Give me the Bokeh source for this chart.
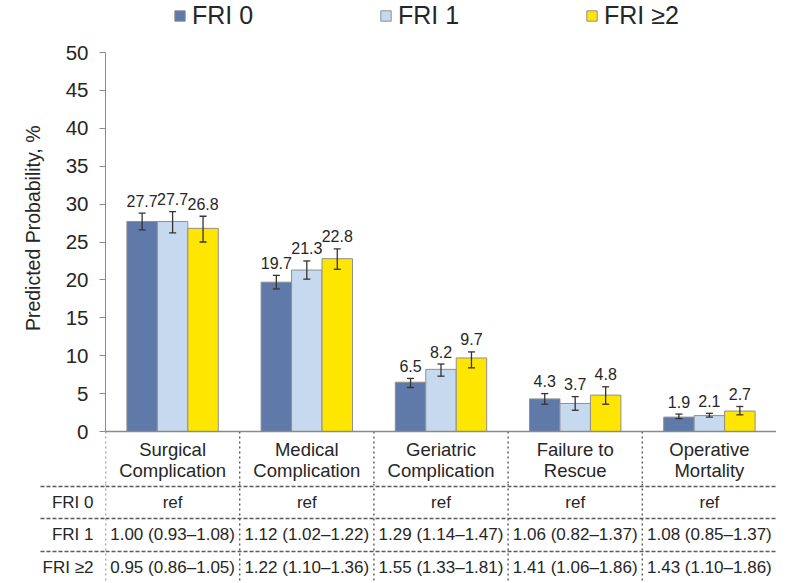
from bokeh.plotting import figure
from bokeh.models import (Range1d, ColumnDataSource, Whisker, TeeHead, Span,
                          Legend, LegendItem, FixedTicker, Title)
from bokeh.layouts import column
from bokeh.core.properties import value
from bokeh.embed import file_html
from bokeh.resources import INLINE

# ---------------- data ----------------
categories = ["Surgical\nComplication", "Medical\nComplication", "Geriatric\nComplication",
              "Failure to\nRescue", "Operative\nMortality"]
series_names = ["FRI 0", "FRI 1", "FRI \u22652"]
fri0 = [27.7, 19.7, 6.5, 4.3, 1.9]
fri1 = [27.7, 21.3, 8.2, 3.7, 2.1]
fri2 = [26.8, 22.8, 9.7, 4.8, 2.7]
fri0_lo = [26.6, 18.8, 5.8, 3.6, 1.7]
fri0_hi = [28.8, 20.6, 7.0, 5.0, 2.3]
fri1_lo = [26.2, 20.1, 7.3, 2.8, 1.9]
fri1_hi = [29.0, 22.5, 8.9, 4.6, 2.4]
fri2_lo = [25.0, 21.4, 8.4, 3.6, 2.2]
fri2_hi = [28.4, 24.1, 10.5, 5.9, 3.3]
y_ticks = [0, 5, 10, 15, 20, 25, 30, 35, 40, 45, 50]
row_labels = ["FRI 0", "FRI 1", "FRI \u22652"]
row_fri0 = ["ref", "ref", "ref", "ref", "ref"]
row_fri1 = ["1.00 (0.93\u20131.08)", "1.12 (1.02\u20131.22)", "1.29 (1.14\u20131.47)",
            "1.06 (0.82\u20131.37)", "1.08 (0.85\u20131.37)"]
row_fri2 = ["0.95 (0.86\u20131.05)", "1.22 (1.10\u20131.36)", "1.55 (1.33\u20131.81)",
            "1.41 (1.06\u20131.86)", "1.43 (1.10\u20131.86)"]

# ---------------- styles / layout ----------------
FONT = "Liberation Sans"
TXT = "#262626"
colors = ["#5f7aa8", "#c6d9ee", "#ffe600"]
values_all = [fri0, fri1, fri2]
lows = [fri0_lo, fri1_lo, fri2_lo]
highs = [fri0_hi, fri1_hi, fri2_hi]
BAR_W = 0.227
offsets = [-BAR_W, 0.0, BAR_W]
DASH_COL = "#5a5a5a"
AXIS_COL = "#8a8a8a"

W = 776
H = 583
FRAME_LEFT = 99
H_A = 483
Y0_PX = 431.0       # pixel row of value 0
Y50_PX = 52.0       # pixel row of value 50
ppu = (Y0_PX - Y50_PX) / 50.0
y_top = 50 + Y50_PX / ppu
y_bot = -(H_A - Y0_PX) / ppu
DASH_LEN = 65        # left overhang of the table's row separators


def below_axis(d):
    """data y (chart units) for a position d pixels below the x axis"""
    return -d / ppu


n = len(categories)
centers = [i + 0.5 for i in range(n)]
bounds_x = list(range(n))

# ================= chart figure =================
p = figure(width=W, height=H_A, output_backend="svg", toolbar_location=None,
           x_range=Range1d(0, n), y_range=Range1d(y_bot, y_top),
           min_border_left=FRAME_LEFT, min_border_right=0, min_border_top=0,
           min_border_bottom=0, x_axis_location=None)
p.outline_line_color = None
p.grid.visible = False
p.background_fill_color = "white"
p.border_fill_color = "white"

yax = p.yaxis[0]
yax.ticker = FixedTicker(ticks=y_ticks)
yax.bounds = (0, 50)
yax.axis_line_color = AXIS_COL
yax.major_tick_line_color = AXIS_COL
yax.major_tick_in = 0
yax.major_tick_out = 6
yax.minor_tick_line_color = None
yax.major_label_standoff = 11
yax.major_label_text_font = FONT
yax.major_label_text_font_size = "20.5px"
yax.major_label_text_color = TXT

ytitle = Title(text="Predicted Probability, %", align="right", offset=125,
               standoff=38, text_font=FONT, text_font_size="19.5px",
               text_font_style="normal", text_color=TXT)
p.add_layout(ytitle, "left")

# table header part (below the x axis)
p.segment(x0=bounds_x, y0=[0] * n, x1=bounds_x, y1=[y_bot] * n,
          line_color=DASH_COL, line_width=1.4, line_dash="2 3")
line1 = [c.split("\n")[0] for c in categories]
line2 = [c.split("\n")[1] for c in categories]
p.text(x=centers, y=[below_axis(18)] * n, text=line1, text_align="center",
       text_baseline="middle", text_font=value(FONT), text_font_size="18.5px", text_color=TXT)
p.text(x=centers, y=[below_axis(39)] * n, text=line2, text_align="center",
       text_baseline="middle", text_font=value(FONT), text_font_size="18.5px", text_color=TXT)

p.add_layout(Span(location=0, dimension="width", line_color=AXIS_COL, line_width=1.5))

renderers = []
for k in range(3):
    xs = [c + offsets[k] for c in centers]
    src = ColumnDataSource(dict(x=xs, top=values_all[k], lo=lows[k], hi=highs[k],
                                lab=["%.1f" % v for v in values_all[k]]))
    r = p.vbar(x="x", top="top", bottom=0, width=BAR_W, source=src,
               fill_color=colors[k], line_color="#8f8f8f", line_width=1)
    renderers.append(r)
    p.add_layout(Whisker(base="x", upper="hi", lower="lo", source=src, level="overlay",
                         line_color="#333333", line_width=1.3,
                         upper_head=TeeHead(size=7, line_color="#333333", line_width=1.3),
                         lower_head=TeeHead(size=7, line_color="#333333", line_width=1.3)))
    p.text(x="x", y="hi", text="lab", source=src, text_align="center",
           text_baseline="alphabetic", y_offset=-12.5, text_font=value(FONT),
           text_font_size="16px", text_color=TXT)

legend = Legend(items=[LegendItem(label=series_names[k], renderers=[renderers[k]]) for k in range(3)],
                orientation="horizontal", location=(68, H_A - 30), padding=0, margin=0,
                spacing=0, glyph_width=13, glyph_height=13, label_standoff=6,
                label_width=187, label_text_font=FONT, label_text_font_size="25px",
                label_text_color=TXT, border_line_color=None, background_fill_alpha=0)
p.add_layout(legend)

# ================= table figure =================
H_B = H - H_A
d_top = H_A - Y0_PX
d_bot = d_top + H_B
row_d = [71, 103, 136]
row_lines = [55, 87, 120]
row_y = [-d for d in row_d]
line_y = [-d for d in row_lines]

t = figure(width=W, height=H_B, output_backend="svg", toolbar_location=None,
           x_range=Range1d(0, n), y_range=Range1d(-d_bot, -d_top),
           min_border_left=FRAME_LEFT, min_border_right=0, min_border_top=0,
           min_border_bottom=0, x_axis_location=None)
t.outline_line_color = None
t.grid.visible = False
t.background_fill_color = "white"
t.border_fill_color = "white"

tax = t.yaxis[0]
tax.ticker = FixedTicker(ticks=row_y, minor_ticks=line_y)
tax.major_label_overrides = {y: lab for y, lab in zip(row_y, row_labels)}
tax.axis_line_color = None
tax.major_tick_line_color = None
tax.major_tick_out = 0
tax.major_tick_in = 0
tax.minor_tick_in = 0
tax.minor_tick_out = DASH_LEN
tax.minor_tick_line_color = DASH_COL
tax.minor_tick_line_width = 1.4
tax.minor_tick_line_dash = "4 2"
tax.major_label_standoff = -53
tax.major_label_text_font = FONT
tax.major_label_text_font_size = "17px"
tax.major_label_text_color = TXT

t.segment(x0=bounds_x, y0=[-d_top] * n, x1=bounds_x, y1=[-d_bot] * n,
          line_color=DASH_COL, line_width=1.4, line_dash="2 3")
t.segment(x0=[0] * 3, y0=line_y, x1=[n] * 3, y1=line_y,
          line_color=DASH_COL, line_width=1.4, line_dash="4 2")
for yy, rows in zip(row_y, [row_fri0, row_fri1, row_fri2]):
    t.text(x=centers, y=[yy] * n, text=rows, text_align="center",
           text_baseline="middle", text_font=value(FONT), text_font_size="17px",
           text_color=TXT)

layout = column(p, t, spacing=0)
open("out.html", "w").write(file_html(layout, INLINE))
